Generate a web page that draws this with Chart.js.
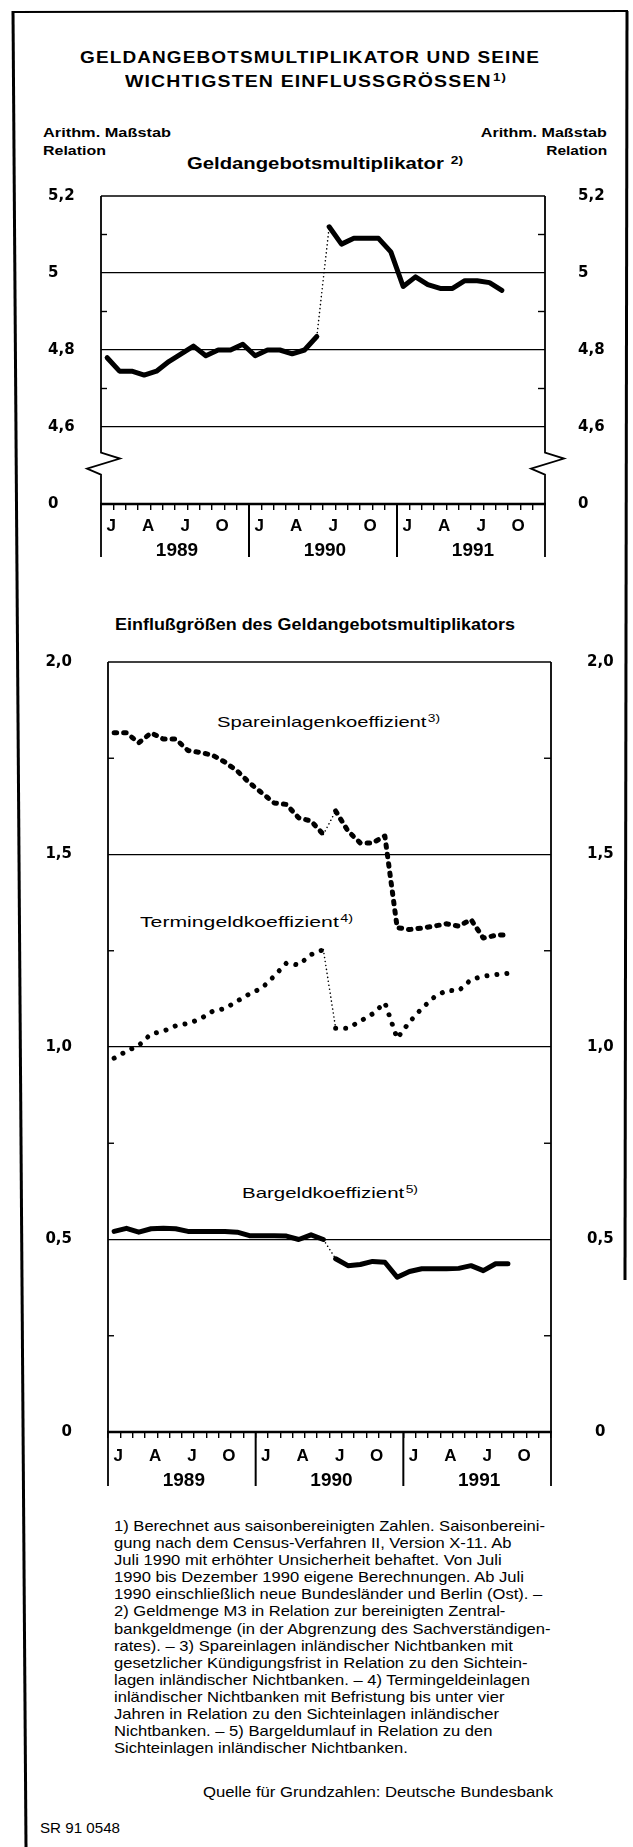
<!DOCTYPE html>
<html>
<head>
<meta charset="utf-8">
<script src="https://cdn.jsdelivr.net/npm/chart.js@4.4.1/dist/chart.umd.min.js"></script>
<style>
  html, body { margin: 0; padding: 0; background: #fff; }
  #page { position: relative; width: 633px; height: 1847px; overflow: hidden; background: #fff; color: #000;
          font-family: "Liberation Sans", Arial, sans-serif; }
  .t { position: absolute; white-space: nowrap; line-height: 1; transform-origin: 0 50%; }
  .t.r { transform-origin: 100% 50%; }
  .t sup { font-size: 68%; position: relative; top: -0.5em; vertical-align: baseline; margin-left: 1px; }
  .b { font-weight: bold; }
  canvas { position: absolute; left: 0; }
  #notes { position: absolute; left: 114px; top: 1518px; font-size: 14.5px; line-height: 17.1px; white-space: nowrap; transform-origin: 0 0; }
  #frame { position: absolute; left: 0; top: 0; }
</style>
</head>
<body>
<div id="page">
  <svg id="frame" width="633" height="1847">
    <g stroke="#000" fill="none">
      <line x1="13" y1="11" x2="26" y2="1847" stroke-width="3"/>
      <line x1="12" y1="12" x2="628" y2="11" stroke-width="2"/>
      <line x1="627" y1="11" x2="625" y2="1280" stroke-width="3"/>
    </g>
  </svg>

  <div class="t b" style="left:80px;top:49px;font-size:17px;letter-spacing:1px" data-w="460">GELDANGEBOTSMULTIPLIKATOR UND SEINE</div>
  <div class="t b" style="left:125px;top:73px;font-size:17px;letter-spacing:1px" data-w="382">WICHTIGSTEN EINFLUSSGRÖSSEN<sup>1)</sup></div>

  <div class="t b" style="left:43px;top:126px;font-size:13.5px" data-w="128">Arithm. Maßstab</div>
  <div class="t b" style="left:43px;top:144px;font-size:13.5px" data-w="63">Relation</div>
  <div class="t b r" style="right:26px;top:126px;font-size:13.5px" data-w="126">Arithm. Maßstab</div>
  <div class="t b r" style="right:26px;top:144px;font-size:13.5px" data-w="61">Relation</div>

  <div class="t b" style="left:187px;top:156px;font-size:16px" data-w="276">Geldangebotsmultiplikator <sup>2)</sup></div>
  <div class="t b" style="left:115px;top:617px;font-size:16px" data-w="400">Einflußgrößen des Geldangebotsmultiplikators</div>

  <div class="t" style="left:217px;top:714px;font-size:15px" data-w="223">Spareinlagenkoeffizient<sup>3)</sup></div>
  <div class="t" style="left:140px;top:914px;font-size:15px" data-w="213">Termingeldkoeffizient<sup>4)</sup></div>
  <div class="t" style="left:242px;top:1185px;font-size:15px" data-w="176">Bargeldkoeffizient<sup>5)</sup></div>

  <canvas id="topChart" width="633" height="400" style="top:180px"></canvas>
  <canvas id="bottomChart" width="633" height="870" style="top:640px"></canvas>

  <div id="notes" data-line="431"><span>1) Berechnet aus saisonbereinigten Zahlen. Saisonbereini-</span><br><span>gung nach dem Census-Verfahren II, Version X-11. Ab</span><br><span>Juli 1990 mit erhöhter Unsicherheit behaftet. Von Juli</span><br><span>1990 bis Dezember 1990 eigene Berechnungen. Ab Juli</span><br><span>1990 einschließlich neue Bundesländer und Berlin (Ost). –</span><br><span>2) Geldmenge M3 in Relation zur bereinigten Zentral-</span><br><span>bankgeldmenge (in der Abgrenzung des Sachverständigen-</span><br><span>rates). – 3) Spareinlagen inländischer Nichtbanken mit</span><br><span>gesetzlicher Kündigungsfrist in Relation zu den Sichtein-</span><br><span>lagen inländischer Nichtbanken. – 4) Termingeldeinlagen</span><br><span>inländischer Nichtbanken mit Befristung bis unter vier</span><br><span>Jahren in Relation zu den Sichteinlagen inländischer</span><br><span>Nichtbanken. – 5) Bargeldumlauf in Relation zu den</span><br><span>Sichteinlagen inländischer Nichtbanken.</span></div>

  <div class="t" style="left:203px;top:1785px;font-size:14px" data-w="350">Quelle für Grundzahlen: Deutsche Bundesbank</div>
  <div class="t" style="left:40px;top:1821px;font-size:14px" data-w="80">SR 91 0548</div>
</div>

<script>
// months Jan 1989 - Dec 1991, data Jan 1989 - Sep 1991
const monthLetters = ["J", "F", "M", "A", "M", "J", "J", "A", "S", "O", "N", "D"];
const yearLabels = ["1989", "1990", "1991"];
const monthLabels = yearLabels.flatMap((y) => monthLetters.map((m) => m + " " + y));

const multiplikator = [4.78, 4.745, 4.745, 4.735, 4.745, 4.77, 4.79, 4.81, 4.785, 4.8, 4.8, 4.815,
  4.785, 4.8, 4.8, 4.79, 4.8, 4.835, 5.12, 5.075, 5.09, 5.09, 5.09, 5.055,
  4.965, 4.99, 4.97, 4.96, 4.96, 4.98, 4.98, 4.975, 4.955];
const spareinlagen = [1.816, 1.816, 1.79, 1.816, 1.8, 1.8, 1.77, 1.765, 1.758, 1.74, 1.717, 1.686,
  1.66, 1.634, 1.63, 1.595, 1.587, 1.552, 1.613, 1.561, 1.53, 1.53, 1.548, 1.31,
  1.305, 1.309, 1.314, 1.32, 1.314, 1.331, 1.283, 1.29, 1.292];
const termingeld = [0.971, 0.989, 1.004, 1.034, 1.041, 1.055, 1.061, 1.073, 1.093, 1.1, 1.119, 1.138,
  1.153, 1.184, 1.218, 1.213, 1.24, 1.253, 1.049, 1.049, 1.067, 1.086, 1.115, 1.022,
  1.065, 1.1, 1.129, 1.147, 1.146, 1.175, 1.184, 1.188, 1.191];
const bargeld = [0.521, 0.529, 0.519, 0.528, 0.529, 0.528, 0.521, 0.521, 0.521, 0.521, 0.519, 0.51,
  0.51, 0.51, 0.509, 0.5, 0.512, 0.5, 0.45, 0.432, 0.435, 0.443, 0.441, 0.402,
  0.417, 0.424, 0.424, 0.424, 0.425, 0.432, 0.419, 0.437, 0.437];

// Juni 1990 -> Juli 1990: Uebergang gepunktet
const breakIndex = 17;

const topTicks = [4.4, 4.6, 4.8, 5.0, 5.2];
const topTickLabels = ["0", "4,6", "4,8", "5", "5,2"];
const topMinorTicks = [4.7, 4.9, 5.1];
const topBreakValue = 4.505;

const bottomTicks = [0, 0.5, 1.0, 1.5, 2.0];
const bottomTickLabels = ["0", "0,5", "1,0", "1,5", "2,0"];
const bottomMinorTicks = [0.25, 0.75, 1.25, 1.75];

// fit text widths
document.querySelectorAll("[data-w]").forEach((el) => {
  const w = el.getBoundingClientRect().width;
  el.style.transform = "scaleX(" + parseFloat(el.dataset.w) / w + ")";
});
const notes = document.getElementById("notes");
notes.style.transform = "scaleX(" + parseFloat(notes.dataset.line) / notes.firstElementChild.getBoundingClientRect().width + ")";

Chart.defaults.font.family = "'DejaVu Sans', 'Liberation Sans', sans-serif";
Chart.defaults.color = "#000";

function strokeLine(ctx, x1, y1, x2, y2, w) {
  ctx.lineWidth = w;
  ctx.beginPath();
  ctx.moveTo(x1, y1);
  ctx.lineTo(x2, y2);
  ctx.stroke();
}

// frame, axis break, short inner ticks, year separators
const decorPlugin = {
  id: "decor",
  afterDraw(chart, args, opts) {
    const { ctx, chartArea: a } = chart;
    const x = chart.scales.x;
    const y = chart.scales.y;
    const sep = opts.sepLength;
    ctx.save();
    ctx.strokeStyle = "#000";
    strokeLine(ctx, a.left, a.top, a.right, a.top, 1.6);
    strokeLine(ctx, a.left - 1, a.bottom, a.right + 1, a.bottom, 2.6);

    [a.left, a.right].forEach((px) => {
      ctx.lineWidth = 1.8;
      ctx.beginPath();
      ctx.moveTo(px, a.top);
      if (opts.breakValue != null) {
        const yc = y.getPixelForValue(opts.breakValue);
        ctx.lineTo(px, yc - 11);
        ctx.lineTo(px + 19, yc - 5);
        ctx.lineTo(px - 14, yc + 5);
        ctx.lineTo(px, yc + 11);
      }
      ctx.lineTo(px, a.bottom + sep);
      ctx.stroke();
    });

    opts.minorTicks.forEach((v) => {
      const py = y.getPixelForValue(v);
      strokeLine(ctx, a.left, py, a.left + 6, py, 1.4);
      strokeLine(ctx, a.right - 7, py, a.right, py, 1.4);
    });

    for (let i = 12; i < monthLabels.length; i += 12) {
      const px = x.getPixelForValue(i - 0.5);
      strokeLine(ctx, px, a.bottom, px, a.bottom + sep, 2);
    }
    ctx.restore();
  },
};

function series(data, width, dash) {
  const atBreak = (c) => c.p0DataIndex === breakIndex;
  return {
    data,
    borderColor: "#000",
    borderWidth: width,
    borderDash: dash,
    borderCapStyle: "round",
    borderJoinStyle: "round",
    pointRadius: 0,
    tension: 0,
    segment: {
      borderWidth: (c) => (atBreak(c) ? 1.6 : width),
      borderDash: (c) => (atBreak(c) ? [0.01, 4] : dash),
    },
  };
}

function makeChart(id, cfg) {
  const yAxis = (side) => ({
    position: side,
    min: cfg.ticks[0],
    max: cfg.ticks[cfg.ticks.length - 1],
    afterBuildTicks: (s) => {
      s.ticks = cfg.ticks.map((v) => ({ value: v }));
    },
    afterFit: (s) => {
      s.width = side === "left" ? cfg.leftWidth : cfg.rightWidth;
      // tick padding is only meant horizontally here
      s.paddingTop = 0;
      s.paddingBottom = 0;
    },
    ticks: {
      callback: (v, i) => cfg.tickLabels[i],
      crossAlign: side === "left" ? cfg.leftAlign : cfg.rightAlign,
      padding: side === "left" ? cfg.leftPad : cfg.rightPad,
      font: { size: 15, weight: "bold" },
      color: "#000",
    },
    grid: side === "left"
      ? {
          drawTicks: false,
          lineWidth: 1.3,
          color: (c) => (c.index === 0 || c.index === cfg.ticks.length - 1 ? "rgba(0,0,0,0)" : "#000"),
        }
      : { display: false, drawTicks: false },
    border: { display: false },
  });

  return new Chart(document.getElementById(id), {
    type: "line",
    data: { labels: monthLabels, datasets: cfg.datasets },
    options: {
      responsive: false,
      animation: false,
      layout: { padding: { top: cfg.padTop, left: cfg.padLeft, right: 0, bottom: 18 } },
      plugins: {
        legend: { display: false },
        tooltip: { enabled: false },
        decor: { breakValue: cfg.breakValue, minorTicks: cfg.minorTicks, sepLength: cfg.sepLength },
      },
      scales: {
        x: {
          type: "category",
          offset: true,
          weight: 0,
          grid: { offset: true, drawOnChartArea: false, drawTicks: true, tickLength: 6, color: "#000", lineWidth: 1.4 },
          border: { display: false },
          ticks: {
            autoSkip: false,
            maxRotation: 0,
            labelOffset: 4,
            padding: cfg.monthPad,
            font: { family: "'Liberation Sans', Arial, sans-serif", size: 17, weight: "bold" },
            color: "#000",
            callback: (v, i) => (i % 3 === 0 ? monthLetters[i % 12] : ""),
          },
          afterFit: (s) => {
            s.height = cfg.monthHeight;
          },
        },
        years: {
          type: "category",
          labels: yearLabels,
          position: "bottom",
          offset: true,
          weight: 1,
          grid: { display: false, drawTicks: false },
          border: { display: false },
          ticks: {
            maxRotation: 0,
            labelOffset: 2,
            padding: cfg.yearPad,
            font: { family: "'Liberation Sans', Arial, sans-serif", size: 19, weight: "bold" },
            color: "#000",
          },
          afterFit: (s) => {
            s.height = 30;
          },
        },
        y: yAxis("left"),
        y2: yAxis("right"),
      },
    },
    plugins: [decorPlugin],
  });
}

makeChart("topChart", {
  datasets: [series(multiplikator, 5, [])],
  ticks: topTicks,
  tickLabels: topTickLabels,
  minorTicks: topMinorTicks,
  breakValue: topBreakValue,
  padTop: 16,
  padLeft: 48,
  leftWidth: 53,
  leftAlign: "far",
  leftPad: 0,
  rightWidth: 88,
  rightAlign: "near",
  rightPad: 33,
  monthPad: 6,
  monthHeight: 28,
  yearPad: 7.5,
  sepLength: 53,
});

makeChart("bottomChart", {
  datasets: [
    series(spareinlagen, 5, [2.5, 7]),
    series(termingeld, 5, [0.01, 10]),
    series(bargeld, 5, []),
  ],
  ticks: bottomTicks,
  tickLabels: bottomTickLabels,
  minorTicks: bottomMinorTicks,
  breakValue: null,
  padTop: 22,
  padLeft: 0,
  leftWidth: 108,
  leftAlign: "near",
  leftPad: 36,
  rightWidth: 82,
  rightAlign: "center",
  rightPad: 36,
  monthPad: 8,
  monthHeight: 30,
  yearPad: 7,
  sepLength: 54,
});
</script>
</body>
</html>
